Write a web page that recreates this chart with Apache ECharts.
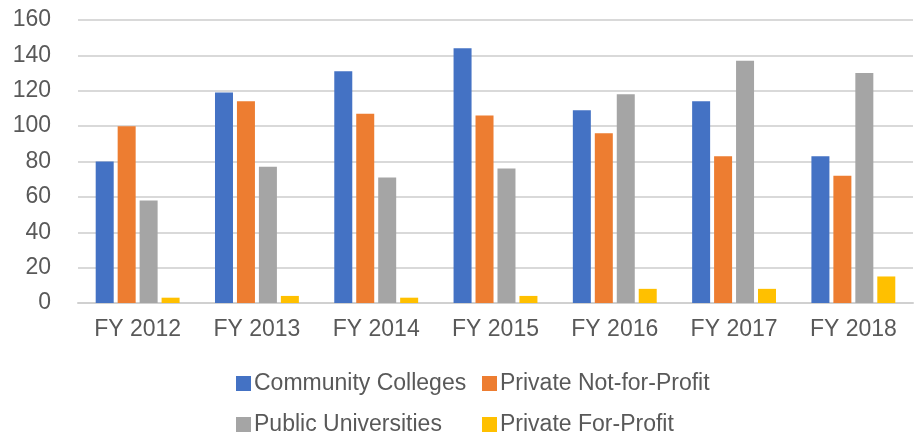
<!DOCTYPE html>
<html>
<head>
<meta charset="utf-8">
<script src="https://cdn.jsdelivr.net/npm/echarts@6/dist/echarts.min.js"></script>
<style>
  html, body { margin: 0; padding: 0; background: #fff; }
  #main { width: 914px; height: 437px; }
</style>
</head>
<body>
<div id="main"></div>
<script>
var categories = ['FY 2012', 'FY 2013', 'FY 2014', 'FY 2015', 'FY 2016', 'FY 2017', 'FY 2018'];
var communityColleges = [80, 119, 131, 144, 109, 114, 83];
var privateNotForProfit = [100, 114, 107, 106, 96, 83, 72];
var publicUniversities = [58, 77, 71, 76, 118, 137, 130];
var privateForProfit = [3, 4, 3, 4, 8, 8, 15];

var chart = echarts.init(document.getElementById('main'));

var font = 'Liberation Sans, Arial, sans-serif';

function bar(name, data) {
  return {
    name: name,
    type: 'bar',
    barWidth: 18,
    barGap: '22%',
    data: data
  };
}

// two vertical legends side by side, so the columns line up like the original
function legendCol(left, names) {
  return {
    orient: 'vertical',
    left: left,
    top: 372,
    height: 64,
    padding: 0,
    itemWidth: 15,
    itemHeight: 15,
    itemGap: 18,
    icon: 'rect',
    textStyle: { fontSize: 23, color: '#595959', fontFamily: font, lineHeight: 23, padding: [0, 0, 0, -2] },
    data: names
  };
}

var option = {
  animation: false,
  color: ['#4472c4', '#ed7d31', '#a5a5a5', '#ffc000'],
  grid: {
    left: 78,
    right: 1,
    top: 20,
    bottom: 134
  },
  legend: [
    legendCol(236, ['Community Colleges', 'Public Universities']),
    legendCol(482, ['Private Not-for-Profit', 'Private For-Profit'])
  ],
  xAxis: {
    type: 'category',
    data: categories,
    axisTick: { show: false },
    axisLine: { lineStyle: { color: '#d0d0d0', width: 2 } },
    axisLabel: { fontSize: 23, color: '#595959', fontFamily: font, margin: 15 }
  },
  yAxis: {
    type: 'value',
    min: 0,
    max: 160,
    interval: 20,
    axisLine: { show: false },
    axisTick: { show: false },
    axisLabel: { fontSize: 23, color: '#595959', fontFamily: font, margin: 27 },
    splitLine: { lineStyle: { color: '#d9d9d9', width: 2 } }
  },
  series: [
    bar('Community Colleges', communityColleges),
    bar('Private Not-for-Profit', privateNotForProfit),
    bar('Public Universities', publicUniversities),
    bar('Private For-Profit', privateForProfit)
  ]
};

chart.setOption(option);
</script>
</body>
</html>
